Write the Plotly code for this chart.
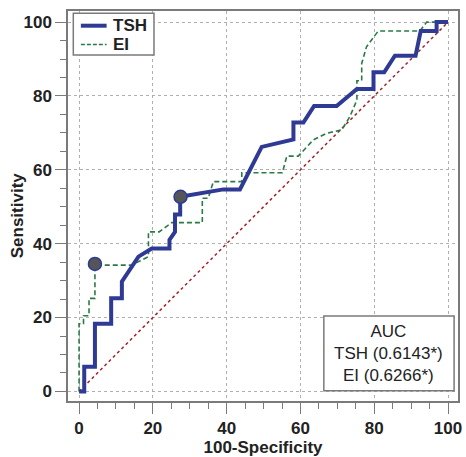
import plotly.graph_objects as go

# TSH ROC curve (100-Specificity, Sensitivity)
tsh_x = [0, 1.4, 1.4, 4.3, 4.3, 8.7, 8.7, 11.6, 11.6, 16.1, 19.7, 24.5, 24.5, 26.0, 26.0, 27.4, 27.4,
         39.1, 43.6, 49.5, 58.1, 58.1, 60.8, 63.7, 69.8, 75.3, 79.8, 79.8, 82.7, 85.6, 91.2, 92.6,
         96.9, 96.9, 100]
tsh_y = [0, 0, 6.7, 6.7, 18.3, 18.3, 25.2, 25.2, 29.7, 36.5, 38.7, 38.7, 41.0, 43.2, 47.9, 47.9, 52.7,
         54.7, 54.7, 66.2, 68.2, 72.8, 72.8, 77.3, 77.3, 81.9, 81.9, 86.4, 86.4, 90.9, 90.9, 97.6,
         97.6, 100, 100]

# EI ROC curve
ei_x = [0, 0, 1.2, 1.2, 2.7, 2.7, 4.3, 4.3, 14.3, 18.8, 18.8, 21.7, 25.1, 33.4, 33.4, 35.0, 36.4,
        44.1, 44.1, 55.1, 56.3, 59.4, 63.5, 67.1, 71.2, 73.4, 75.3, 75.3, 76.6, 76.6, 77.9, 81.1,
        92.4, 94.2, 100]
ei_y = [0, 18.3, 18.3, 20.5, 20.5, 25.2, 25.2, 34.2, 34.2, 36.5, 43.2, 43.2, 45.7, 45.7, 52.3, 52.3,
        56.8, 56.8, 59.2, 59.2, 63.7, 63.7, 68.1, 69.9, 70.8, 74.4, 78.9, 84.1, 84.1, 88.8, 93.3,
        97.6, 97.6, 100, 100]

# Optimal cut-off points
cut_x = [4.3, 27.5]
cut_y = [34.5, 52.7]

diag = [0, 100]
ticks = [0, 20, 40, 60, 80, 100]
series_names = ["TSH", "EI"]
auc_lines = ["AUC", "TSH (0.6143*)", "EI (0.6266*)"]

FONT = "Liberation Sans, Arial, sans-serif"
BLUE = "#2f3a94"
GREEN = "#2a7a46"
RED = "#a3202c"
FRAME = "#7a7a7a"
TEXT = "#222222"

fig = go.Figure()
fig.add_trace(go.Scatter(x=diag, y=diag, mode="lines", showlegend=False,
                         line=dict(color=RED, width=1.5, dash="dot"), hoverinfo="skip"))
fig.add_trace(go.Scatter(x=ei_x, y=ei_y, mode="lines", name=series_names[1], showlegend=False,
                         line=dict(color=GREEN, width=1.6, dash="5px,3px")))
fig.add_trace(go.Scatter(x=tsh_x, y=tsh_y, mode="lines", name=series_names[0], showlegend=False,
                         line=dict(color=BLUE, width=4)))
fig.add_trace(go.Scatter(x=cut_x, y=cut_y, mode="markers", showlegend=False,
                         marker=dict(size=13, color="#555558", line=dict(color=BLUE, width=1.5))))

axis_common = dict(
    showline=True, linecolor=FRAME, linewidth=1.5, mirror=True, automargin=False,
    ticks="outside", ticklen=11, tickwidth=1.2, tickcolor=FRAME,
    tickvals=ticks, showgrid=True, gridcolor="#b0b0b0", gridwidth=1, griddash="dot",
    zeroline=False,
    tickfont=dict(family=FONT, size=17, color=TEXT, weight="bold"),
    minor=dict(dtick=5, tick0=0, ticks="outside", ticklen=6, tickcolor=FRAME, tickwidth=1.2, showgrid=False),
)

fig.update_xaxes(range=[-3.0, 102.7], title=dict(text="<b>100-Specificity</b>",
                 font=dict(family=FONT, size=17, color=TEXT)), **axis_common)
fig.update_yaxes(range=[-2.6, 103.0], **axis_common)

# Y-axis title
fig.add_annotation(xref="paper", yref="paper", x=-0.131, y=0.476, text="<b>Sensitivity</b>",
                   textangle=-90, showarrow=False, xanchor="center", yanchor="middle",
                   font=dict(family=FONT, size=17, color=TEXT))

# AUC box
fig.add_shape(type="rect", xref="paper", yref="paper", x0=0.656, x1=0.990, y0=0.026, y1=0.218,
              line=dict(color=FRAME, width=1.5), fillcolor="white", layer="above")
fig.add_annotation(xref="paper", yref="paper", x=0.823, y=0.122, text="<br>".join(auc_lines),
                   showarrow=False, align="center", xanchor="center", yanchor="middle",
                   font=dict(family=FONT, size=17, color=TEXT))

# Legend box (compact, drawn in paper coordinates)
fig.add_shape(type="rect", xref="paper", yref="paper", x0=0.0136, x1=0.2205, y0=0.8872, y1=0.9941,
              line=dict(color=FRAME, width=1.5), fillcolor="white", layer="above")
fig.add_shape(type="line", xref="paper", yref="paper", x0=0.033, x1=0.099, y0=0.9623, y1=0.9623,
              line=dict(color=BLUE, width=4), layer="above")
fig.add_shape(type="line", xref="paper", yref="paper", x0=0.033, x1=0.099, y0=0.9141, y1=0.9141,
              line=dict(color=GREEN, width=1.6, dash="4px,2px"), layer="above")
for name, yy in zip(series_names, [0.9623, 0.9141]):
    fig.add_annotation(xref="paper", yref="paper", x=0.113, y=yy, text="<b>%s</b>" % name,
                       showarrow=False, xanchor="left", yanchor="middle", borderpad=0,
                       font=dict(family=FONT, size=17, color=TEXT))

fig.update_layout(
    width=466, height=457,
    margin=dict(l=68, r=8, t=11, b=56, autoexpand=False),
    plot_bgcolor="white", paper_bgcolor="white",
    font=dict(family=FONT),
    showlegend=False,
)

fig.write_html("out.html", config={"displayModeBar": False},
               post_script="document.body.style.margin='0';")
